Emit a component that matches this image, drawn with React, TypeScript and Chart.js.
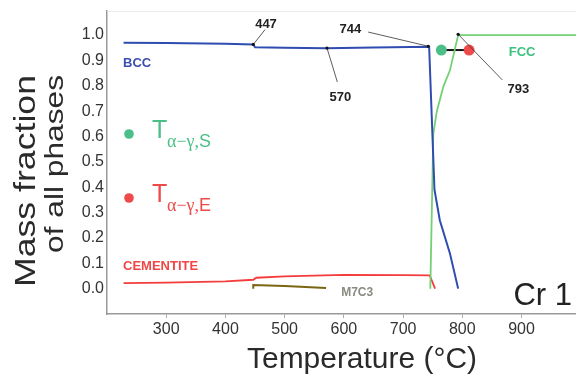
import React, { useEffect, useRef } from 'react';
import { Chart, registerables } from 'chart.js';
Chart.register(...registerables);

// ---- data ----
const bccT = [228, 300, 400, 447, 450, 500, 570, 650, 744, 753, 762, 779, 793];
const bccV = [0.970, 0.969, 0.966, 0.963, 0.952, 0.950, 0.948, 0.951, 0.954, 0.39, 0.27, 0.14, 0.0];
const fccT = [746, 751, 757, 768, 779, 793, 992];
const fccV = [0.0, 0.61, 0.70, 0.797, 0.86, 1.0, 1.0];
const cemT = [228, 300, 400, 447, 452, 500, 600, 700, 745, 754];
const cemV = [0.022, 0.024, 0.029, 0.035, 0.043, 0.048, 0.054, 0.053, 0.052, 0.0];
const m7c3T = [447, 447, 500, 570];
const m7c3V = [0.0, 0.014, 0.010, 0.003];
const transT = [764.6, 811.5]; // T alpha-gamma S (start) and E (end)
const transV = [0.941, 0.941];
const xTicks = [300, 400, 500, 600, 700, 800, 900];
const yTicks = [0.0, 0.1, 0.2, 0.3, 0.4, 0.5, 0.6, 0.7, 0.8, 0.9, 1.0];
const annotations = [
  { text: '447', point: [447, 0.963], label: [468.5, 1.043], from: [467, 1.022] },
  { text: '570', point: [571.5, 0.949], label: [594, 0.756], from: [589, 0.815] },
  { text: '744', point: [742.5, 0.956], label: [611, 1.024], from: [641, 1.012] },
  { text: '793', point: [793, 1.003], label: [894.6, 0.787], from: [867.6, 0.823] },
];
const phaseLabels = [
  { text: 'BCC', at: [227, 0.888], color: '#3a4fb0', align: 'left' },
  { text: 'FCC', at: [901, 0.931], color: '#3cc07e', align: 'center' },
  { text: 'CEMENTITE', at: [227, 0.0866], color: '#f04646', align: 'left' },
  { text: 'M7C3', at: [595.5, -0.016], color: '#8a8a80', align: 'left' },
];

const SANS = '"Liberation Sans", Arial, Helvetica, sans-serif';
const SERIF = '"Liberation Serif", "DejaVu Serif", serif';
const GREEN = '#4cbf88';
const RED = '#ee4a4a';

const pts = (xs: number[], ys: number[]) => xs.map((x, i) => ({ x, y: ys[i] }));

const overlay = {
  id: 'overlay',
  afterDraw(chart: any) {
    const ctx: CanvasRenderingContext2D = chart.ctx;
    const xs = chart.scales.x;
    const ys = chart.scales.y;
    const ca = chart.chartArea;
    const px = (v: number) => xs.getPixelForValue(v);
    const py = (v: number) => ys.getPixelForValue(v);
    ctx.save();

    // faint top frame line
    ctx.strokeStyle = '#ececec';
    ctx.lineWidth = 1;
    ctx.beginPath();
    ctx.moveTo(ca.left, ca.top + 0.5);
    ctx.lineTo(ca.right, ca.top + 0.5);
    ctx.stroke();

    // annotation leaders
    ctx.strokeStyle = '#333';
    ctx.fillStyle = '#111';
    ctx.lineWidth = 0.8;
    annotations.forEach((a) => {
      ctx.beginPath();
      ctx.moveTo(px(a.from[0]), py(a.from[1]));
      ctx.lineTo(px(a.point[0]), py(a.point[1]));
      ctx.stroke();
      ctx.beginPath();
      ctx.arc(px(a.point[0]), py(a.point[1]), 1.6, 0, Math.PI * 2);
      ctx.fill();
      ctx.font = `bold 13px ${SANS}`;
      ctx.fillStyle = '#222';
      ctx.textAlign = 'center';
      ctx.textBaseline = 'middle';
      ctx.fillText(a.text, px(a.label[0]), py(a.label[1]));
      ctx.fillStyle = '#111';
    });

    // phase labels
    phaseLabels.forEach((l) => {
      ctx.font = `bold ${l.text === 'M7C3' ? 12 : 13}px ${SANS}`;
      ctx.fillStyle = l.color;
      ctx.textAlign = l.align as CanvasTextAlign;
      ctx.textBaseline = 'middle';
      ctx.fillText(l.text, px(l.at[0]), py(l.at[1]));
    });

    // Cr 1
    ctx.font = `31px ${SANS}`;
    ctx.fillStyle = '#222';
    ctx.textAlign = 'right';
    ctx.textBaseline = 'alphabetic';
    ctx.fillText('Cr 1', ca.right - 4, ca.bottom - 9);

    // legend
    const legendItem = (cy: number, color: string, sub: string) => {
      const lx = ca.left + 22;
      ctx.fillStyle = color;
      ctx.beginPath();
      ctx.arc(lx, cy, 4.8, 0, Math.PI * 2);
      ctx.fill();
      ctx.textAlign = 'left';
      ctx.textBaseline = 'alphabetic';
      ctx.font = `25px ${SANS}`;
      ctx.fillText('T', lx + 23, cy + 4);
      let x = lx + 38;
      ctx.font = `18px ${SERIF}`;
      ctx.fillText('\u03b1\u2212\u03b3,', x, cy + 13);
      x += ctx.measureText('\u03b1\u2212\u03b3,').width;
      ctx.font = `18px ${SANS}`;
      ctx.fillText(sub, x, cy + 13);
    };
    legendItem(ca.top + 123, GREEN, 'S');
    legendItem(ca.top + 187, RED, 'E');

    // y-axis title (two lines)
    const rotText = (text: string, size: number, bx: number, cy: number, w: number) => {
      ctx.save();
      ctx.font = `${size}px ${SANS}`;
      ctx.fillStyle = '#2a2a2a';
      ctx.textAlign = 'center';
      ctx.textBaseline = 'alphabetic';
      const mw = ctx.measureText(text).width;
      ctx.translate(bx, cy);
      ctx.rotate(-Math.PI / 2);
      ctx.scale(w / mw, 1);
      ctx.fillText(text, 0, 0);
      ctx.restore();
    };
    rotText('Mass fraction', 30, 35, 181, 212);
    rotText('of all phases', 26, 63, 164, 178);

    // x-axis title
    ctx.save();
    ctx.font = `30px ${SANS}`;
    ctx.fillStyle = '#2a2a2a';
    ctx.textAlign = 'center';
    ctx.textBaseline = 'alphabetic';
    const tw = ctx.measureText('Temperature (\u00b0C)').width;
    ctx.translate(362, 368);
    ctx.scale(230 / tw, 1);
    ctx.fillText('Temperature (\u00b0C)', 0, 0);
    ctx.restore();

    ctx.restore();
  },
};

export default function App() {
  const ref = useRef<HTMLCanvasElement>(null);
  useEffect(() => {
    if (!ref.current) return;
    const chart = new Chart(ref.current, {
      type: 'line',
      data: {
        datasets: [
          { label: 'BCC', data: pts(bccT, bccV), borderColor: '#2f4cb0', borderWidth: 2 },
          { label: 'FCC', data: pts(fccT, fccV), borderColor: '#74d074', borderWidth: 1.8 },
          { label: 'CEMENTITE', data: pts(cemT, cemV), borderColor: '#f43c3c', borderWidth: 1.8 },
          { label: 'M7C3', data: pts(m7c3T, m7c3V), borderColor: '#7a6612', borderWidth: 2 },
          {
            label: 'Transformation',
            data: pts(transT, transV),
            borderColor: '#111',
            borderWidth: 2,
            pointRadius: 5.5,
            pointBorderWidth: 0,
            pointBackgroundColor: [GREEN, RED],
          },
        ] as any,
      },
      options: {
        animation: false,
        responsive: false,
        devicePixelRatio: 1,
        layout: { autoPadding: false, padding: { top: 11, right: 0, left: 0, bottom: 0 } },
        elements: { line: { tension: 0 }, point: { radius: 0 } },
        plugins: { legend: { display: false }, tooltip: { enabled: false } },
        scales: {
          x: {
            type: 'linear',
            min: 200,
            max: 992,
            afterBuildTicks: (s: any) => { s.ticks = xTicks.map((v) => ({ value: v })); },
            afterFit: (s: any) => {
              s.height = 62;
              s.paddingLeft = 0; s.paddingRight = 0; s.paddingTop = 0; s.paddingBottom = 0;
            },
            grid: { display: true, drawOnChartArea: false, drawTicks: true, tickLength: 4, color: '#aaa' },
            border: { display: true, color: '#999', width: 1.5 },
            ticks: {
              color: '#333',
              font: { size: 16, family: SANS },
              padding: 2,
              maxRotation: 0,
              autoSkip: false,
            },
          },
          y: {
            type: 'linear',
            min: -0.1,
            max: 1.095,
            afterBuildTicks: (s: any) => { s.ticks = yTicks.map((v) => ({ value: v })); },
            afterFit: (s: any) => {
              s.width = 107;
              s.paddingLeft = 0; s.paddingRight = 0; s.paddingTop = 0; s.paddingBottom = 0;
            },
            grid: { display: false, drawTicks: false },
            border: { display: true, color: '#999', width: 1.5 },
            ticks: {
              color: '#333',
              font: { size: 16, family: SANS },
              padding: 3,
              callback: (v: any) => Number(v).toFixed(1),
            },
          },
        },
      } as any,
      plugins: [overlay],
    });
    return () => chart.destroy();
  }, []);
  return (
    <div style={{ position: 'fixed', left: 0, top: 0, width: 576, height: 376, background: '#fff' }}>
      <canvas ref={ref} width={576} height={376} style={{ display: 'block' }} />
    </div>
  );
}
